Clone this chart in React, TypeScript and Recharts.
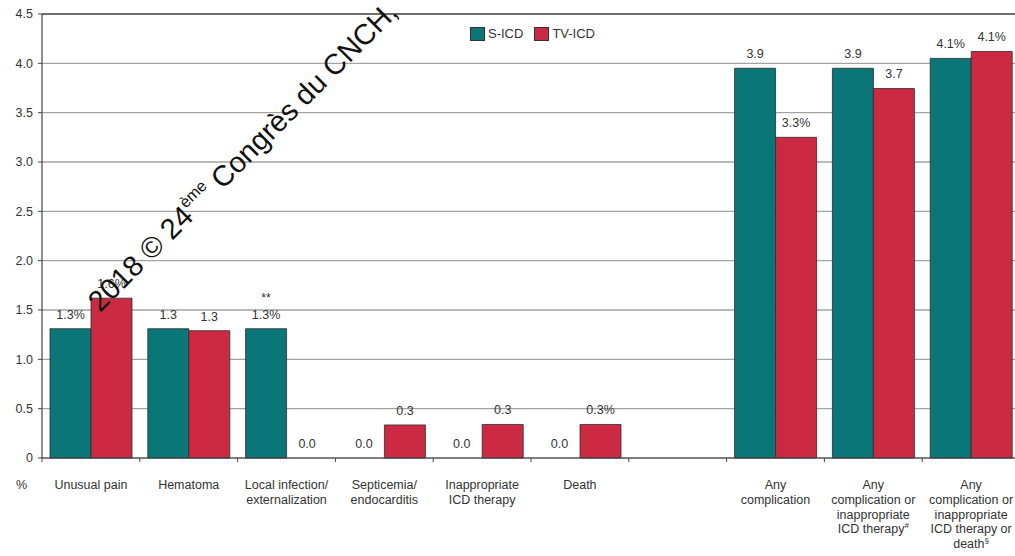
import React from 'react';
import { BarChart, Bar, XAxis, YAxis, CartesianGrid, LabelList, ReferenceLine, Rectangle } from 'recharts';

const categories = [
  'Unusual pain',
  'Hematoma',
  'Local infection/\nexternalization',
  'Septicemia/\nendocarditis',
  'Inappropriate\nICD therapy',
  'Death',
  '',
  'Any\ncomplication',
  'Any\ncomplication or\ninappropriate\nICD therapy#',
  'Any\ncomplication or\ninappropriate\nICD therapy or\ndeath§',
];
const sicdValues = [1.31, 1.31, 1.31, 0, 0, 0, null, 3.95, 3.95, 4.05];
const tvicdValues = [1.62, 1.29, 0, 0.335, 0.34, 0.34, null, 3.25, 3.745, 4.12];
const sicdLabels = ['1.3%', '1.3', '1.3%', '0.0', '0.0', '0.0', '', '3.9', '3.9', '4.1%'];
const tvicdLabels = ['1.6%', '1.3', '0.0', '0.3', '0.3', '0.3%', '', '3.3%', '3.7', '4.1%'];
const sicdNotes = ['', '', '**', '', '', '', '', '', '', ''];
const yTicks = [0, 0.5, 1.0, 1.5, 2.0, 2.5, 3.0, 3.5, 4.0, 4.5];

const TEAL = '#0b7677';
const RED = '#cc2a43';
const TEXT = '#333';
const FONT = 'Arial, "Liberation Sans", Helvetica, sans-serif';

const data = categories.map((name, i) => ({
  name,
  sicd: sicdValues[i],
  tvicd: tvicdValues[i],
  sLabel: sicdLabels[i],
  tLabel: tvicdLabels[i],
  sNote: sicdNotes[i],
}));

const HALF_BAND = 48.9;

// zero bars get a hairline height so their labels still show; the rect itself is skipped
const BarShape = (props: any) => {
  if (!props.value) return null;
  return <Rectangle {...props} />;
};

const CategoryTick = (props: any) => {
  const { x, y, payload } = props;
  const lines: string[] = String(payload.value).split('\n');
  return (
    <g>
      <line x1={x - HALF_BAND} x2={x - HALF_BAND} y1={y} y2={y + 4} stroke="#444" strokeWidth={1} />
      {lines.map((line, i) => {
        const last = line.slice(-1);
        const sup = last === '#' || last === '§';
        return (
          <text
            key={i}
            x={x}
            y={y + 31 + i * 14.8}
            textAnchor="middle"
            fontSize={12.5}
            fontFamily={FONT}
            fill={TEXT}
          >
            {sup ? line.slice(0, -1) : line}
            {sup && (
              <tspan fontSize={8} dy={-5}>
                {last}
              </tspan>
            )}
          </text>
        );
      })}
    </g>
  );
};

const legendItems = [
  { name: 'S-ICD', color: TEAL },
  { name: 'TV-ICD', color: RED },
];

export default function App() {
  return (
    <div style={{ position: 'absolute', left: 0, top: 0, width: 1015, height: 556, overflow: 'hidden', background: '#fff' }}>
      <BarChart
        width={1030}
        height={556}
        data={data}
        margin={{ top: 14, right: 10, left: 8, bottom: 38 }}
        barGap={0}
        barSize={41}
      >
        <CartesianGrid vertical={false} stroke="#a3a3a3" strokeWidth={1.3} />
        <ReferenceLine y={4.5} stroke="#555" strokeWidth={1.6} />
        <YAxis
          width={34}
          domain={[0, 4.5]}
          ticks={yTicks}
          interval={0}
          tickSize={4}
          tickMargin={5}
          tickFormatter={(v: number) => (v === 0 ? '0' : v.toFixed(1))}
          tick={{ fontSize: 12.5, fontFamily: FONT, fill: TEXT }}
          axisLine={{ stroke: '#444', strokeWidth: 1.2 }}
          tickLine={{ stroke: '#444' }}
        />
        <XAxis
          dataKey="name"
          height={60}
          interval={0}
          tickSize={0}
          tickMargin={0}
          tickLine={false}
          axisLine={{ stroke: '#444', strokeWidth: 1.2 }}
          tick={<CategoryTick />}
        />
        <Bar
          dataKey="sicd"
          name="S-ICD"
          fill={TEAL}
          stroke="#2b2b2b"
          strokeWidth={0.8}
          minPointSize={0.01}
          shape={<BarShape />}
          isAnimationActive={false}
        >
          <LabelList dataKey="sLabel" position="top" offset={10} fontSize={12.5} fontFamily={FONT} fill={TEXT} />
          <LabelList dataKey="sNote" position="top" offset={27} fontSize={12.5} fontFamily={FONT} fill={TEXT} />
        </Bar>
        <Bar
          dataKey="tvicd"
          name="TV-ICD"
          fill={RED}
          stroke="#2b2b2b"
          strokeWidth={0.8}
          minPointSize={0.01}
          shape={<BarShape />}
          isAnimationActive={false}
        >
          <LabelList dataKey="tLabel" position="top" offset={10} fontSize={12.5} fontFamily={FONT} fill={TEXT} />
        </Bar>
      </BarChart>
      <div
        style={{
          position: 'absolute',
          left: 470,
          top: 26,
          display: 'flex',
          alignItems: 'center',
          fontFamily: FONT,
          fontSize: 13,
          color: TEXT,
        }}
      >
        {legendItems.map((it) => (
          <div key={it.name} style={{ display: 'flex', alignItems: 'center', marginRight: 11 }}>
            <span
              style={{
                display: 'inline-block',
                width: 15,
                height: 14,
                background: it.color,
                border: '1px solid #333',
                boxSizing: 'border-box',
                marginRight: 3,
              }}
            />
            <span>{it.name}</span>
          </div>
        ))}
      </div>
      <div style={{ position: 'absolute', left: 16, top: 478, fontFamily: FONT, fontSize: 12.5, color: TEXT }}>%</div>
      <svg width={1015} height={556} style={{ position: 'absolute', left: 0, top: 0, pointerEvents: 'none' }}>
        <text transform="translate(100,313) rotate(-45)" fontSize={29} fontFamily={FONT} fill="#111">
          2018 © 24
          <tspan fontSize={16} dy={-13}>ème</tspan>
          <tspan dy={13}> Congrès du CNCH,</tspan>
        </text>
      </svg>
    </div>
  );
}
